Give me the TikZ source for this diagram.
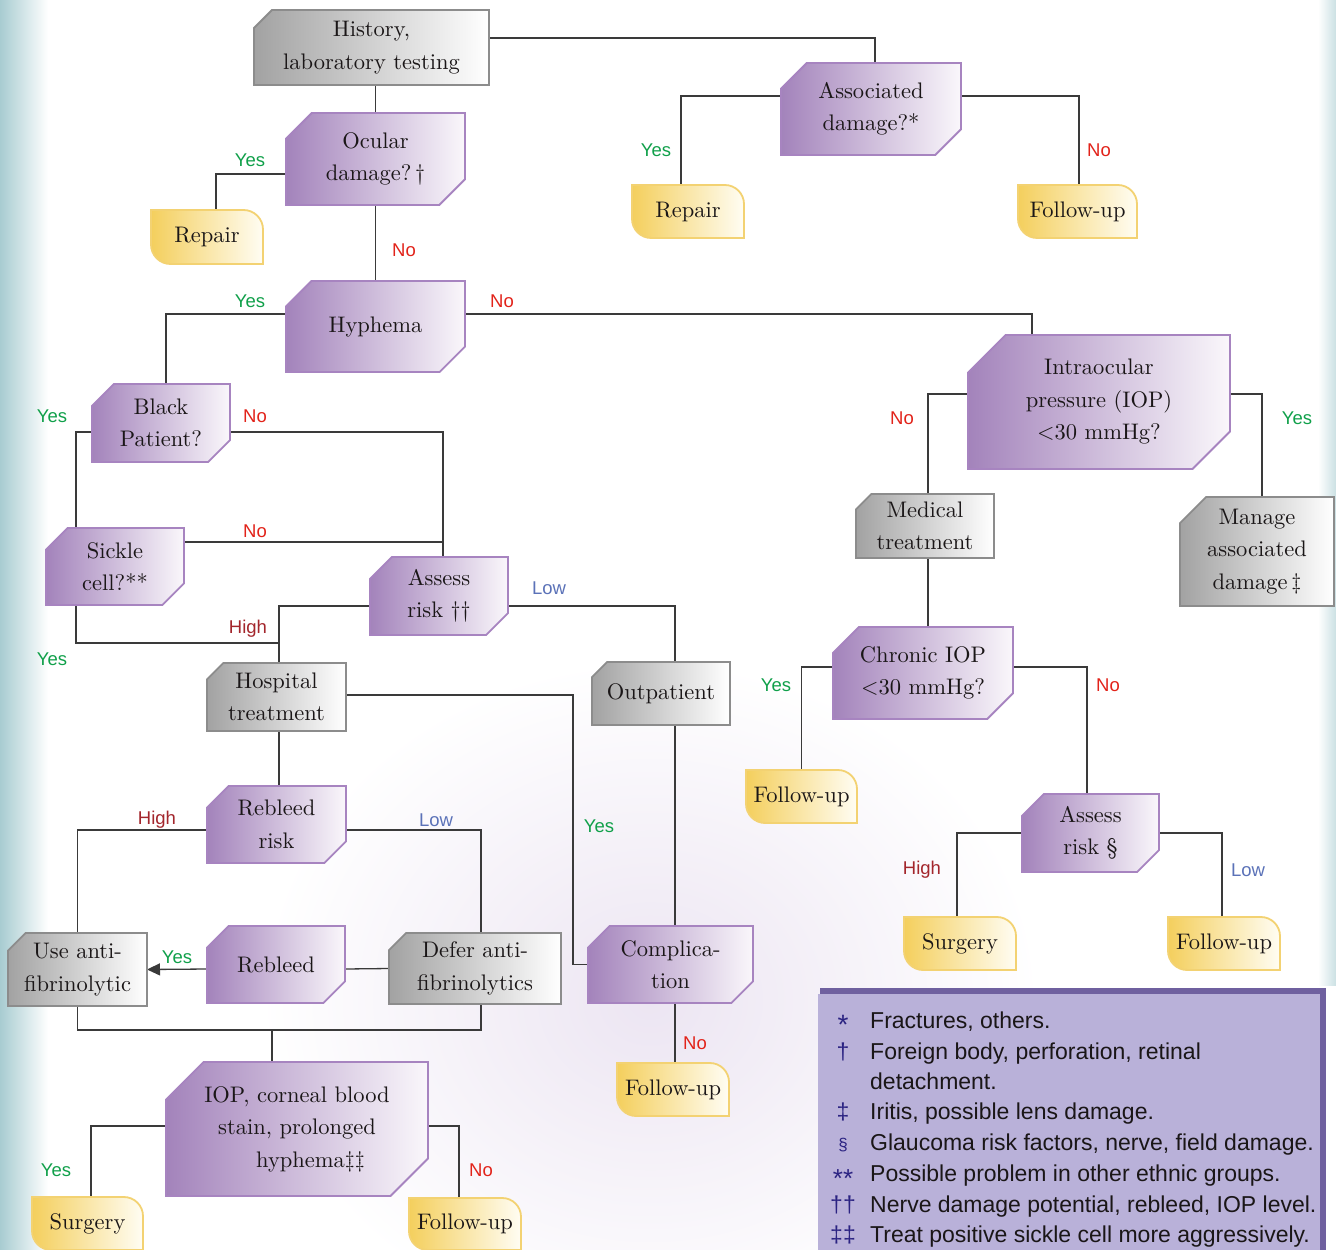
\documentclass[tikz,border=0pt]{standalone}
\usepackage{fontspec}
\setmainfont{lmroman10-regular}[Extension=.otf]
\newfontfamily\labfont{Liberation Sans}
\usetikzlibrary{arrows.meta}
\definecolor{pL}{HTML}{A383BB}
\definecolor{pR}{HTML}{FAF7FB}
\definecolor{pB}{HTML}{A784C0}
\definecolor{gL}{HTML}{A2A2A2}
\definecolor{gR}{HTML}{FFFFFF}
\definecolor{gB}{HTML}{8C8C8C}
\definecolor{yL}{HTML}{F4CF5D}
\definecolor{yR}{HTML}{FFFDF3}
\definecolor{yB}{HTML}{F3D272}
\definecolor{lineC}{HTML}{3A3A3A}
\definecolor{txtC}{HTML}{1A1617}
\definecolor{yesC}{HTML}{10A04A}
\definecolor{noC}{HTML}{E2231A}
\definecolor{highC}{HTML}{A3262C}
\definecolor{lowC}{HTML}{5B72B8}
\definecolor{legFill}{HTML}{B9B1D9}
\definecolor{legDark}{HTML}{6F609F}
\definecolor{legSym}{HTML}{2B2382}
\definecolor{tealC}{HTML}{A8CCD1}
\definecolor{lavC}{HTML}{ECE5F2}
\pgfdeclarelayer{bg}
\pgfdeclarelayer{lines}
\pgfsetlayers{bg,lines,main}
\tikzset{
  conn/.style={draw=lineC, line width=1.3pt},
  ntext/.style={inner sep=0pt, outer sep=0pt, align=center, text=txtC, font=\fontsize{22.5}{32.5}\selectfont},
  pshade/.style={left color=pL, right color=pR, draw=pB, line width=1.8pt},
  gshade/.style={left color=gL, right color=gR, draw=gB, line width=1.8pt},
  yshade/.style={left color=yL, right color=yR, draw=yB, line width=1.8pt},
  lab/.style={font=\labfont\fontsize{18.5}{20}\selectfont, inner sep=0pt},
  yeslab/.style={lab, text=yesC},
  nolab/.style={lab, text=noC},
  highlab/.style={lab, text=highC},
  lowlab/.style={lab, text=lowC},
  legsym/.style={font=\labfont\fontsize{23}{26}\selectfont, text=legSym, anchor=base, inner sep=0pt},
  legtxt/.style={font=\labfont\fontsize{23}{26}\selectfont, text=txtC, anchor=base west, inner sep=0pt},
  arr/.style={-{Triangle[length=13pt,width=12pt]}},
}
% purple decision node: #1 name, #2 x1, #3 y1, #4 x2, #5 y2, #6 text
\newcommand\PNode[6]{%
  \pgfmathsetmacro\mycut{0.28*(#5-#3)}%
  \shadedraw[pshade] (#2,#3+\mycut) -- (#2+\mycut,#3) -- (#4,#3) -- (#4,#5-\mycut) -- (#4-\mycut,#5) -- (#2,#5) -- cycle;
  \node[ntext, minimum width={(#4-#2)*1pt}, minimum height={(#5-#3)*1pt}] (#1) at ({(#2+#4)/2},{(#3+#5)/2}) {#6};
}
% grey process node
\newcommand\GNode[6]{%
  \pgfmathsetmacro\mycut{0.24*(#5-#3)}%
  \shadedraw[gshade] (#2,#3+\mycut) -- (#2+\mycut,#3) -- (#4,#3) -- (#4,#5) -- (#2,#5) -- cycle;
  \node[ntext, minimum width={(#4-#2)*1pt}, minimum height={(#5-#3)*1pt}] (#1) at ({(#2+#4)/2},{(#3+#5)/2}) {#6};
}
% yellow terminal node
\newcommand\YNode[6]{%
  \pgfmathsetmacro\myr{0.36*(#5-#3)}%
  \shadedraw[yshade] (#2,#3) -- (#4-\myr,#3) .. controls (#4-0.45*\myr,#3) and (#4,#3+0.45*\myr) .. (#4,#3+\myr) -- (#4,#5) -- (#2+\myr,#5) .. controls (#2+0.45*\myr,#5) and (#2,#5-0.45*\myr) .. (#2,#5-\myr) -- cycle;
  \node[ntext, minimum width={(#4-#2)*1pt}, minimum height={(#5-#3)*1pt}] (#1) at ({(#2+#4)/2},{(#3+#5)/2}) {#6};
}
\begin{document}
\begin{tikzpicture}[x=1pt, y=-1pt]
\useasboundingbox (0,0) rectangle (1336,1250);
\begin{pgfonlayer}{bg}
  \fill[white] (0,0) rectangle (1336,1250);
  \shade[inner color=lavC, outer color=white] (650,1000) ellipse (390 and 340);
  \shade[left color=tealC, right color=white] (0,0) rectangle (48,1250);
  \shade[left color=white, right color=tealC!60] (1318,0) rectangle (1336,985);
  \fill[legDark] (820,988) rectangle (1326,1250);
  \fill[legFill] (818,994) rectangle (1320,1250);
\end{pgfonlayer}

% nodes
\GNode{hist}{254}{10}{489}{85}{History,\\laboratory testing}
\PNode{assoc}{781}{63}{961}{155}{Associated\\damage?*}
\PNode{ocular}{286}{113}{465}{205}{Ocular\\damage?\,†}
\YNode{rep1}{151}{210}{263}{264}{Repair}
\YNode{rep2}{632}{185}{744}{238}{Repair}
\YNode{fu1}{1018}{185}{1137}{238}{Follow-up}
\PNode{hyph}{286}{281}{465}{372}{Hyphema}
\PNode{iop}{968}{335}{1230}{469}{Intraocular\\pressure (IOP)\\<30 mmHg?}
\PNode{black}{92}{384}{230}{462}{Black\\Patient?}
\PNode{sickle}{46}{528}{184}{605}{Sickle\\cell?**}
\PNode{assess}{370}{557}{508}{635}{Assess\\risk ††}
\GNode{med}{856}{494}{994}{558}{Medical\\treatment}
\GNode{manage}{1180}{497}{1334}{606}{Manage\\associated\\damage\,‡}
\GNode{hosp}{207}{663}{346}{731}{Hospital\\treatment}
\GNode{outp}{592}{662}{730}{725}{Outpatient}
\PNode{chronic}{833}{627}{1013}{719}{Chronic IOP\\<30 mmHg?}
\YNode{fu2}{746}{770}{857}{823}{Follow-up}
\PNode{rebr}{207}{786}{346}{863}{Rebleed\\risk}
\PNode{assesss}{1022}{794}{1159}{872}{Assess\\risk §}
\YNode{surg1}{904}{917}{1016}{970}{Surgery}
\YNode{fu3}{1168}{917}{1280}{970}{Follow-up}
\GNode{useanti}{8}{933}{147}{1006}{Use anti-\\fibrinolytic}
\PNode{rebleed}{207}{926}{345}{1003}{Rebleed}
\GNode{defer}{389}{933}{561}{1004}{Defer anti-\\fibrinolytics}
\PNode{compl}{588}{926}{753}{1003}{Complica-\\tion}
\YNode{fu4}{617}{1063}{729}{1116}{Follow-up}
\PNode{iopc}{166}{1062}{428}{1196}{IOP, corneal blood\\stain, prolonged\\\hspace{1.2em}hyphema‡‡}
\YNode{surg2}{32}{1197}{143}{1250}{Surgery}
\YNode{fu5}{409}{1198}{521}{1250}{Follow-up}

% connectors
\begin{pgfonlayer}{lines}
\draw[conn] ([yshift=9.5pt]hist.east) -| ([xshift=4pt]assoc.north);
\draw[conn] (ocular.north) -- (ocular.north |- hist.south);
\draw[conn] ([yshift=13pt]assoc.west) -| ([xshift=-7pt]rep2.north);
\draw[conn] ([yshift=13pt]assoc.east) -| ([xshift=1.5pt]fu1.north);
\draw[conn] ([yshift=-15pt]ocular.west) -| ([xshift=9pt]rep1.north);
\draw[conn] (ocular.south) -- (hyph.north);
\draw[conn] ([yshift=12.5pt]hyph.west) -| ([xshift=5pt]black.north);
\draw[conn] ([yshift=12.5pt]hyph.east) -| ([xshift=-67pt]iop.north);
\draw[conn] ([yshift=8pt]iop.west) -| ([xshift=3pt]med.north);
\draw[conn] ([yshift=8pt]iop.east) -| ([xshift=5pt]manage.north);
\draw[conn] ([yshift=-9pt]black.west) -| ([xshift=-39pt]sickle.north);
\draw[conn] ([yshift=-9pt]black.east) -| ([xshift=4pt]assess.north);
\coordinate (j1) at (443,542);
\draw[conn] ([yshift=24.5pt]sickle.east) -- (j1);
\coordinate (j2) at (279,643);
\draw[conn] ([xshift=-39pt]sickle.south) |- (j2);
\draw[conn] ([yshift=-10pt]assess.west) -| ([xshift=2.5pt]hosp.north);
\draw[conn] ([yshift=-10pt]assess.east) -| ([xshift=14pt]outp.north);
\draw[conn] ([xshift=3pt]med.south) -- ([xshift=3pt]med.south |- chronic.north);
\draw[conn] ([yshift=6pt]chronic.west) -| (fu2.north);
\draw[conn] ([yshift=6pt]chronic.east) -| ([xshift=-3.5pt]assesss.north);
\draw[conn] (assesss.west) -| ([xshift=-3pt]surg1.north);
\draw[conn] (assesss.east) -| ([xshift=-2pt]fu3.north);
\draw[conn] ([xshift=2.5pt]hosp.south) -- ([xshift=2.5pt]hosp.south |- rebr.north);
\draw[conn] ([yshift=2pt]hosp.east) -- ++(227,0) |- (compl.west);
\draw[conn] ([xshift=14pt]outp.south) -- ([xshift=14pt]outp.south |- compl.north);
\draw[conn] ([yshift=-5.5pt]rebr.west) -| (useanti.north);
\draw[conn] ([yshift=-5.5pt]rebr.east) -| ([xshift=6pt]defer.north);
\draw[conn, arr] ([yshift=-4.5pt]rebleed.west) -- (useanti.east);
\draw[conn] ([yshift=-4.5pt]rebleed.east) -- (defer.west);
\draw[conn] (useanti.south) -- ++(0,24) -| ([xshift=6pt]defer.south);
\coordinate (j3) at (272,1030);
\draw[conn] (j3) -- (j3 |- iopc.north);
\draw[conn] ([xshift=4.5pt]compl.south) -- ([xshift=4.5pt]compl.south |- fu4.north);
\draw[conn] ([yshift=3pt]iopc.west) -| ([xshift=3.5pt]surg2.north);
\draw[conn] ([yshift=3pt]iopc.east) -| ([xshift=-6pt]fu5.north);
\end{pgfonlayer}

% labels
\node[yeslab] (l1) at (250,160) {Yes};
\node[nolab] (l2) at (404,250) {No};
\node[yeslab] (l3) at (656,150) {Yes};
\node[nolab] (l4) at (1099,150) {No};
\node[yeslab] (l5) at (250,301) {Yes};
\node[nolab] (l6) at (502,301) {No};
\node[yeslab] (l7) at (52,416) {Yes};
\node[nolab] (l8) at (255,416) {No};
\node[nolab] (l9) at (255,531) {No};
\node[lowlab] (l10) at (549,588) {Low};
\node[highlab] (l11) at (248,629) {High};
\node[yeslab] (l12) at (52,659) {Yes};
\node[nolab] (l13) at (902,418) {No};
\node[yeslab] (l14) at (1297,418) {Yes};
\node[yeslab] (l15) at (776,685) {Yes};
\node[nolab] (l16) at (1108,685) {No};
\node[highlab] (l17) at (922,870) {High};
\node[lowlab] (l18) at (1248,870) {Low};
\node[highlab] (l19) at (157,820) {High};
\node[lowlab] (l20) at (436,820) {Low};
\node[yeslab] (l21) at (599,826) {Yes};
\node[yeslab] (l22) at (177,957) {Yes};
\node[nolab] (l23) at (695,1043) {No};
\node[yeslab] (l24) at (56,1170) {Yes};
\node[nolab] (l25) at (481,1170) {No};

% legend
\node[legsym, yshift=-6pt] (s1) at (843,1028) {\fontsize{28}{28}\selectfont *};
\node[legtxt] (t1) at (870,1028) {Fractures, others.};
\node[legsym] (s2) at (843,1059) {†};
\node[legtxt] (t2) at (870,1059) {Foreign body, perforation, retinal};
\node[legtxt] (t2b) at (870,1089) {detachment.};
\node[legsym] (s3) at (843,1119) {‡};
\node[legtxt] (t3) at (870,1119) {Iritis, possible lens damage.};
\node[legsym] (s4) at (843,1150) {\fontsize{17}{20}\selectfont §};
\node[legtxt] (t4) at (870,1150) {Glaucoma risk factors, nerve, field damage.};
\node[legsym, yshift=-6pt] (s5) at (843,1181) {\fontsize{26}{26}\selectfont **};
\node[legtxt] (t5) at (870,1181) {Possible problem in other ethnic groups.};
\node[legsym] (s6) at (843,1212) {††};
\node[legtxt] (t6) at (870,1212) {Nerve damage potential, rebleed, IOP level.};
\node[legsym] (s7) at (843,1242) {‡‡};
\node[legtxt] (t7) at (870,1242) {Treat positive sickle cell more aggressively.};
\end{tikzpicture}
\end{document}
